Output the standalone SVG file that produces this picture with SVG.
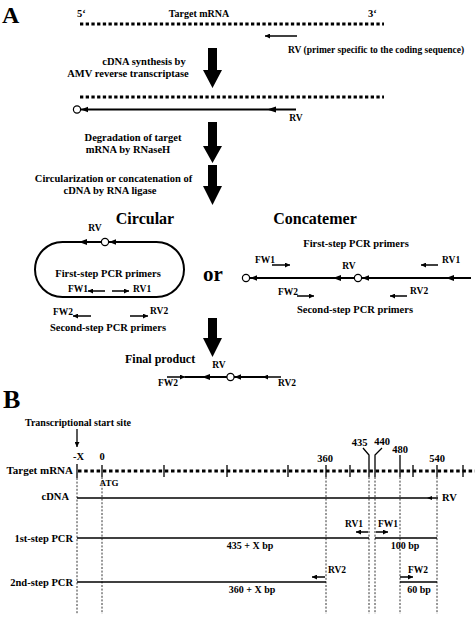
<svg xmlns="http://www.w3.org/2000/svg" width="475" height="623" viewBox="0 0 475 623">
<style>
text{font-family:"Liberation Serif","Times New Roman",serif;font-weight:bold;fill:#000}
.s{font-size:10.5px}
.p{font-size:9.5px}
.m{text-anchor:middle}
.e{text-anchor:end}
.dot{fill:none;stroke:#000;stroke-width:3;stroke-dasharray:3.3 2.4}
.thick{fill:none;stroke:#000;stroke-width:2}
.thin{fill:none;stroke:#000;stroke-width:1.5}
.vd{fill:none;stroke:#000;stroke-width:0.8;stroke-dasharray:2 1.6}
.vs{fill:none;stroke:#000;stroke-width:1.3}
.c{fill:#fff;stroke:#000;stroke-width:1.2}
.big{fill:#000}
</style>
<defs>
<marker id="ah" viewBox="0 0 10 10" refX="10" refY="5" markerWidth="5" markerHeight="5" markerUnits="userSpaceOnUse" orient="auto"><path d="M0,0 L10,5 L0,10 z" fill="#000"/></marker>
</defs>

<g id="panelA-labels">
<text x="2" y="23" style="font-size:24px">A</text>
<text x="77" y="17" style="font-size:10.5px">5‘</text>
<text x="199" y="17" class="m" style="font-size:10px">Target mRNA</text>
<text x="368" y="17" style="font-size:10.5px">3‘</text>
<text x="288" y="53" class="p">RV (primer specific to the coding sequence)</text>
<text x="144" y="65" class="s m">cDNA synthesis by</text>
<text x="128" y="77" class="s m">AMV reverse transcriptase</text>
<text x="296" y="121" class="p m">RV</text>
<text x="133" y="141" class="s m">Degradation of target</text>
<text x="128" y="153" class="s m">mRNA by RNaseH</text>
<text x="113.5" y="182" class="s m">Circularization or concatenation of</text>
<text x="110" y="194" class="s m">cDNA by RNA ligase</text>
<text x="145" y="224" class="m" style="font-size:16px">Circular</text>
<text x="315" y="224" class="m" style="font-size:16px">Concatemer</text>
<text x="213" y="281" class="m" style="font-size:21px">or</text>
</g>

<g id="big-arrows">
<polygon class="big" points="208,48 217,48 217,70 222,70 212.5,88 203,70 208,70"/>
<polygon class="big" points="208,122 217,122 217,146 222,146 212.5,163 203,146 208,146"/>
<polygon class="big" points="208,165 217,165 217,186 222,186 212.5,205 203,186 208,186"/>
<polygon class="big" points="208,318 217,318 217,338 222,338 212.5,357 203,338 208,338"/>
</g>

<g id="mrna-top">
<line class="dot" x1="80" y1="24" x2="384" y2="24"/>
<line class="thin" x1="297" y1="36" x2="265" y2="36" marker-end="url(#ah)"/>
</g>

<g id="cdna-synth">
<line class="dot" x1="80" y1="97" x2="384" y2="97"/>
<line class="thick" x1="296" y1="109.5" x2="81" y2="109.5"/>
<polygon points="267,109.5 276,106.5 276,112.5" fill="#000"/>
<polygon points="81,109.5 88,106.8 88,112.2" fill="#000"/>
<circle class="c" cx="77" cy="109.5" r="3.6"/>
</g>

<g id="circular">
<rect class="thick" x="35" y="242" width="149" height="55" rx="27.5" ry="27.5"/>
<polygon points="79,242 87,239 87,245" fill="#000"/>
<polygon points="109,242 116,239.3 116,244.7" fill="#000"/>
<circle class="c" cx="105" cy="242" r="3.6"/>
<text x="95" y="231" class="p m">RV</text>
<text x="108" y="277" class="s m">First-step PCR primers</text>
<text x="68" y="292" class="p">FW1</text>
<line class="thin" x1="105" y1="291" x2="88" y2="291" marker-end="url(#ah)"/>
<line class="thin" x1="112" y1="291" x2="129" y2="291" marker-end="url(#ah)"/>
<text x="133" y="292" class="p">RV1</text>
<text x="53" y="315" class="p">FW2</text>
<line class="thin" x1="91" y1="316" x2="73" y2="316" marker-end="url(#ah)"/>
<line class="thin" x1="130" y1="316" x2="148" y2="316" marker-end="url(#ah)"/>
<text x="150" y="314" class="p">RV2</text>
<text x="108" y="331" class="s m">Second-step PCR primers</text>
</g>

<g id="concatemer">
<text x="356" y="247" class="s m">First-step PCR primers</text>
<text x="255" y="263" class="p">FW1</text>
<line class="thin" x1="272" y1="265" x2="290" y2="265" marker-end="url(#ah)"/>
<text x="349" y="269" class="p m">RV</text>
<line class="thin" x1="438" y1="265" x2="421" y2="265" marker-end="url(#ah)"/>
<text x="442" y="263" class="p">RV1</text>
<line class="thick" x1="250" y1="278" x2="471" y2="278"/>
<polygon points="250,278 257,275.3 257,280.7" fill="#000"/>
<polygon points="333,278 341,275 341,281" fill="#000"/>
<polygon points="362,278 369,275.3 369,280.7" fill="#000"/>
<polygon points="446,278 454,275 454,281" fill="#000"/>
<circle class="c" cx="246" cy="278" r="3.6"/>
<circle class="c" cx="358" cy="278" r="3.6"/>
<text x="278" y="295" class="p">FW2</text>
<line class="thin" x1="297" y1="296" x2="314" y2="296" marker-end="url(#ah)"/>
<line class="thin" x1="407" y1="296" x2="390" y2="296" marker-end="url(#ah)"/>
<text x="410" y="294" class="p">RV2</text>
<text x="355" y="313" class="s m">Second-step PCR primers</text>
</g>

<g id="final-product">
<text x="125" y="363" style="font-size:12px">Final product</text>
<text x="219" y="368" class="p m">RV</text>
<line class="thin" x1="167" y1="377" x2="185" y2="377" marker-end="url(#ah)"/>
<line class="thick" x1="185" y1="377" x2="265" y2="377"/>
<polygon points="202,377 210,374 210,380" fill="#000"/>
<polygon points="234.5,377 241,374.3 241,379.7" fill="#000"/>
<line class="thin" x1="281" y1="377" x2="263" y2="377" marker-end="url(#ah)"/>
<circle class="c" cx="230.5" cy="377" r="3.6"/>
<text x="168" y="386" class="p m">FW2</text>
<text x="287" y="386" class="p m">RV2</text>
</g>

<g id="panelB-labels">
<text x="3" y="408" style="font-size:26px">B</text>
<text x="25" y="426" style="font-size:10px">Transcriptional start site</text>
<text x="78.5" y="460" class="s m">-X</text>
<text x="102" y="460" class="s m">0</text>
<text x="325" y="462" class="s m">360</text>
<text x="359.5" y="446" class="s m">435</text>
<text x="382" y="445" class="s m">440</text>
<text x="400" y="453" class="s m">480</text>
<text x="437" y="462" class="s m">540</text>
<text x="73" y="474" class="e" style="font-size:11px">Target mRNA</text>
<text x="109" y="486" class="m" style="font-size:9px">ATG</text>
<text x="69" y="500" class="s e">cDNA</text>
<text x="442" y="501" class="s">RV</text>
<text x="73" y="542" class="s e">1st-step PCR</text>
<text x="73" y="586" class="s e">2nd-step PCR</text>
<text x="250" y="549" class="m" style="font-size:10px">435 + X bp</text>
<text x="405" y="549" class="m" style="font-size:10px">100 bp</text>
<text x="354" y="527" class="p m">RV1</text>
<text x="388" y="527" class="p m">FW1</text>
<text x="252" y="593" class="m" style="font-size:10px">360 + X bp</text>
<text x="337" y="573" class="p m">RV2</text>
<text x="418" y="573" class="p m">FW2</text>
<text x="419" y="593" class="m" style="font-size:10px">60 bp</text>
</g>

<g id="connectors">
<line class="vs" x1="77" y1="429" x2="77" y2="447" marker-end="url(#ah)"/>
<line class="dot" x1="78" y1="471" x2="475" y2="471" style="stroke-dasharray:3.5 2.7"/>
<line class="vs" x1="77" y1="464" x2="77" y2="478"/>
<line class="vs" x1="102" y1="465" x2="102" y2="477"/>
<line class="vs" x1="164" y1="465" x2="164" y2="477"/>
<line class="vs" x1="227" y1="465" x2="227" y2="477"/>
<line class="vs" x1="288" y1="465" x2="288" y2="477"/>
<line class="vs" x1="350" y1="465" x2="350" y2="477"/>
<line class="vs" x1="413" y1="465" x2="413" y2="477"/>
<line class="vs" x1="463" y1="465" x2="463" y2="477"/>
<line class="vs" x1="326" y1="465" x2="326" y2="477"/>
<polyline class="vs" points="363,448 369,455 369,477"/>
<polyline class="vs" points="382,448 375,455 375,477"/>
<line class="vs" x1="400" y1="455" x2="400" y2="477"/>
<line class="vs" x1="437" y1="465" x2="437" y2="477"/>
<line class="vd" x1="77" y1="478" x2="77" y2="614"/>
<line class="vd" x1="102" y1="477" x2="102" y2="614"/>
<line class="vd" x1="326" y1="477" x2="326" y2="614"/>
<line class="vd" x1="369" y1="477" x2="369" y2="614"/>
<line class="vd" x1="375" y1="477" x2="375" y2="614"/>
<line class="vd" x1="400" y1="477" x2="400" y2="614"/>
<line class="vd" x1="437" y1="477" x2="437" y2="614"/>
<line class="vs" x1="77" y1="498" x2="438" y2="498"/>
<polygon points="427,498 432,496 432,500" fill="#000"/>
<line class="vs" x1="77" y1="538" x2="369" y2="538"/>
<line class="vs" x1="375" y1="538" x2="437" y2="538"/>
<line class="thin" x1="368" y1="532" x2="356" y2="532" marker-end="url(#ah)"/>
<line class="thin" x1="376" y1="532" x2="388" y2="532" marker-end="url(#ah)"/>
<line class="vs" x1="77" y1="582" x2="326" y2="582"/>
<line class="vs" x1="400" y1="582" x2="437" y2="582"/>
<line class="thin" x1="325" y1="577" x2="312" y2="577" marker-end="url(#ah)"/>
<line class="thin" x1="400" y1="577" x2="413" y2="577" marker-end="url(#ah)"/>
</g>
</svg>
